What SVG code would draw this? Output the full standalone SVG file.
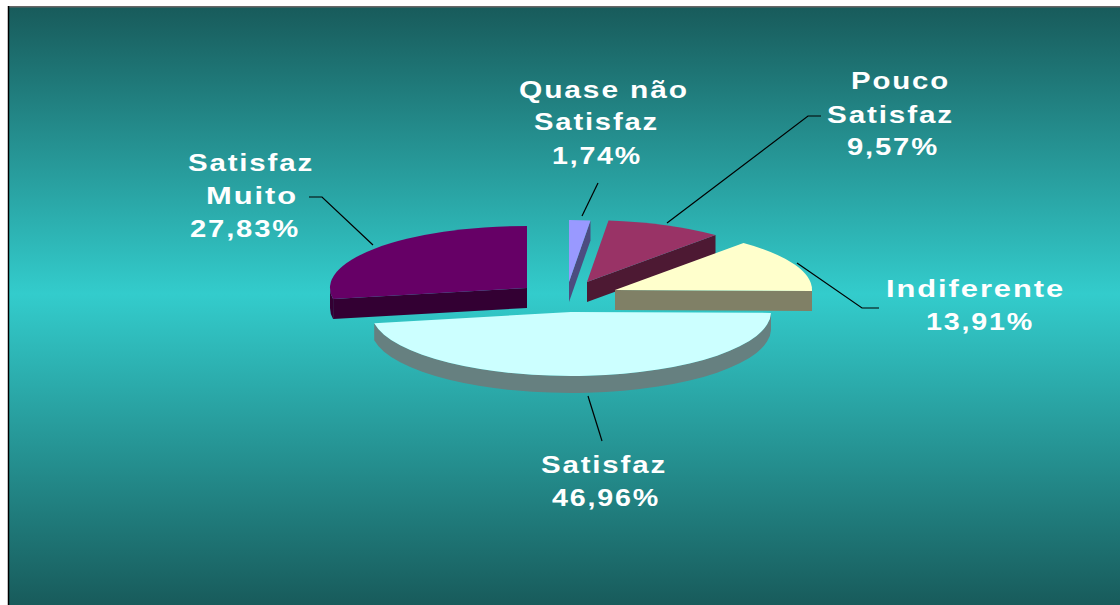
<svg xmlns="http://www.w3.org/2000/svg" width="1120" height="605" viewBox="0 0 1120 605">
<defs>
<linearGradient id="bg" x1="0" y1="7" x2="0" y2="605" gradientUnits="userSpaceOnUse">
<stop offset="0" stop-color="#185b5b"/>
<stop offset="0.48" stop-color="#33cccc"/>
<stop offset="1" stop-color="#185b5b"/>
</linearGradient>
</defs>
<style>
.lbl{font-family:"Liberation Sans",Arial,sans-serif;font-weight:bold;font-size:24px;letter-spacing:1.5px;fill:#ffffff}
.lead{fill:none;stroke:#000000;stroke-width:1.2}
</style>
<rect x="0" y="0" width="1120" height="605" fill="#ffffff"/>
<rect x="8" y="7" width="1112" height="598" fill="url(#bg)"/>
<line x1="8" y1="6.8" x2="1120" y2="6.8" stroke="#666666" stroke-width="1.5"/>
<line x1="8.5" y1="6" x2="8.5" y2="605" stroke="#000000" stroke-width="1.5"/>

<g id="satisfaz-muito">
<path d="M527,288 L333.1,299 L333.1,319 L527,308 Z" fill="#330033"/>
<path d="M333.1,299 A197,62 0 0 1 330,288 L330,308 A197,62 0 0 0 333.1,319 Z" fill="#330033"/>
<path d="M527,288 L333.1,299 A197,62 0 0 1 527,226 Z" fill="#660066"/>
<text class="lbl" x="188" y="171" textLength="126" lengthAdjust="spacingAndGlyphs">Satisfaz</text>
<text class="lbl" x="206" y="204" textLength="92" lengthAdjust="spacingAndGlyphs">Muito</text>
<text class="lbl" x="190" y="237" textLength="110" lengthAdjust="spacingAndGlyphs">27,83%</text>
</g>

<g id="quase-nao-satisfaz">
<path d="M569,282 L590.5,220.4 L590.5,240.4 L569,302 Z" fill="#4c4c80"/>
<path d="M569,282 L569,220 A197,62 0 0 1 590.5,220.4 Z" fill="#9999ff"/>
<text class="lbl" x="519" y="98" textLength="170" lengthAdjust="spacingAndGlyphs">Quase não</text>
<text class="lbl" x="534" y="130" textLength="125" lengthAdjust="spacingAndGlyphs">Satisfaz</text>
<text class="lbl" x="552" y="164" textLength="90" lengthAdjust="spacingAndGlyphs">1,74%</text>
</g>

<g id="pouco-satisfaz">
<path d="M587,282 L715.5,235 L715.5,255 L587,302 Z" fill="#4d1933"/>
<path d="M587,282 L608.5,220.4 A197,62 0 0 1 715.5,235 Z" fill="#993366"/>
<text class="lbl" x="851" y="89" textLength="99" lengthAdjust="spacingAndGlyphs">Pouco</text>
<text class="lbl" x="827" y="122.5" textLength="127" lengthAdjust="spacingAndGlyphs">Satisfaz</text>
<text class="lbl" x="847" y="155" textLength="92" lengthAdjust="spacingAndGlyphs">9,57%</text>
</g>

<g id="indiferente">
<path d="M615,290 L812,290.9 L812,310.9 L615,310 Z" fill="#808066"/>
<path d="M615,290 L743.5,243 A197,62 0 0 1 812,290.9 Z" fill="#ffffcc"/>
<text class="lbl" x="886" y="297" textLength="179" lengthAdjust="spacingAndGlyphs">Indiferente</text>
<text class="lbl" x="926" y="330" textLength="108" lengthAdjust="spacingAndGlyphs">13,91%</text>
</g>

<g id="satisfaz">
<path d="M771,312.9 A200,64 0 0 1 374.2,323.3 L374.2,340.3 A200,64 0 0 0 771,329.9 Z" fill="#668080"/>
<path d="M571,312 L771,312.9 A200,64 0 0 1 374.2,323.3 Z" fill="#ccffff"/>
<text class="lbl" x="541" y="472.5" textLength="126" lengthAdjust="spacingAndGlyphs">Satisfaz</text>
<text class="lbl" x="552" y="506" textLength="108" lengthAdjust="spacingAndGlyphs">46,96%</text>
</g>

<g id="connectors">
<polyline class="lead" points="598,183 582,216"/>
<polyline class="lead" points="821,116 808,116 667,223"/>
<polyline class="lead" points="309,197 322,197 373,245"/>
<polyline class="lead" points="797,263 862,308 879,308"/>
<polyline class="lead" points="588,396 602,441"/>
</g>
</svg>
